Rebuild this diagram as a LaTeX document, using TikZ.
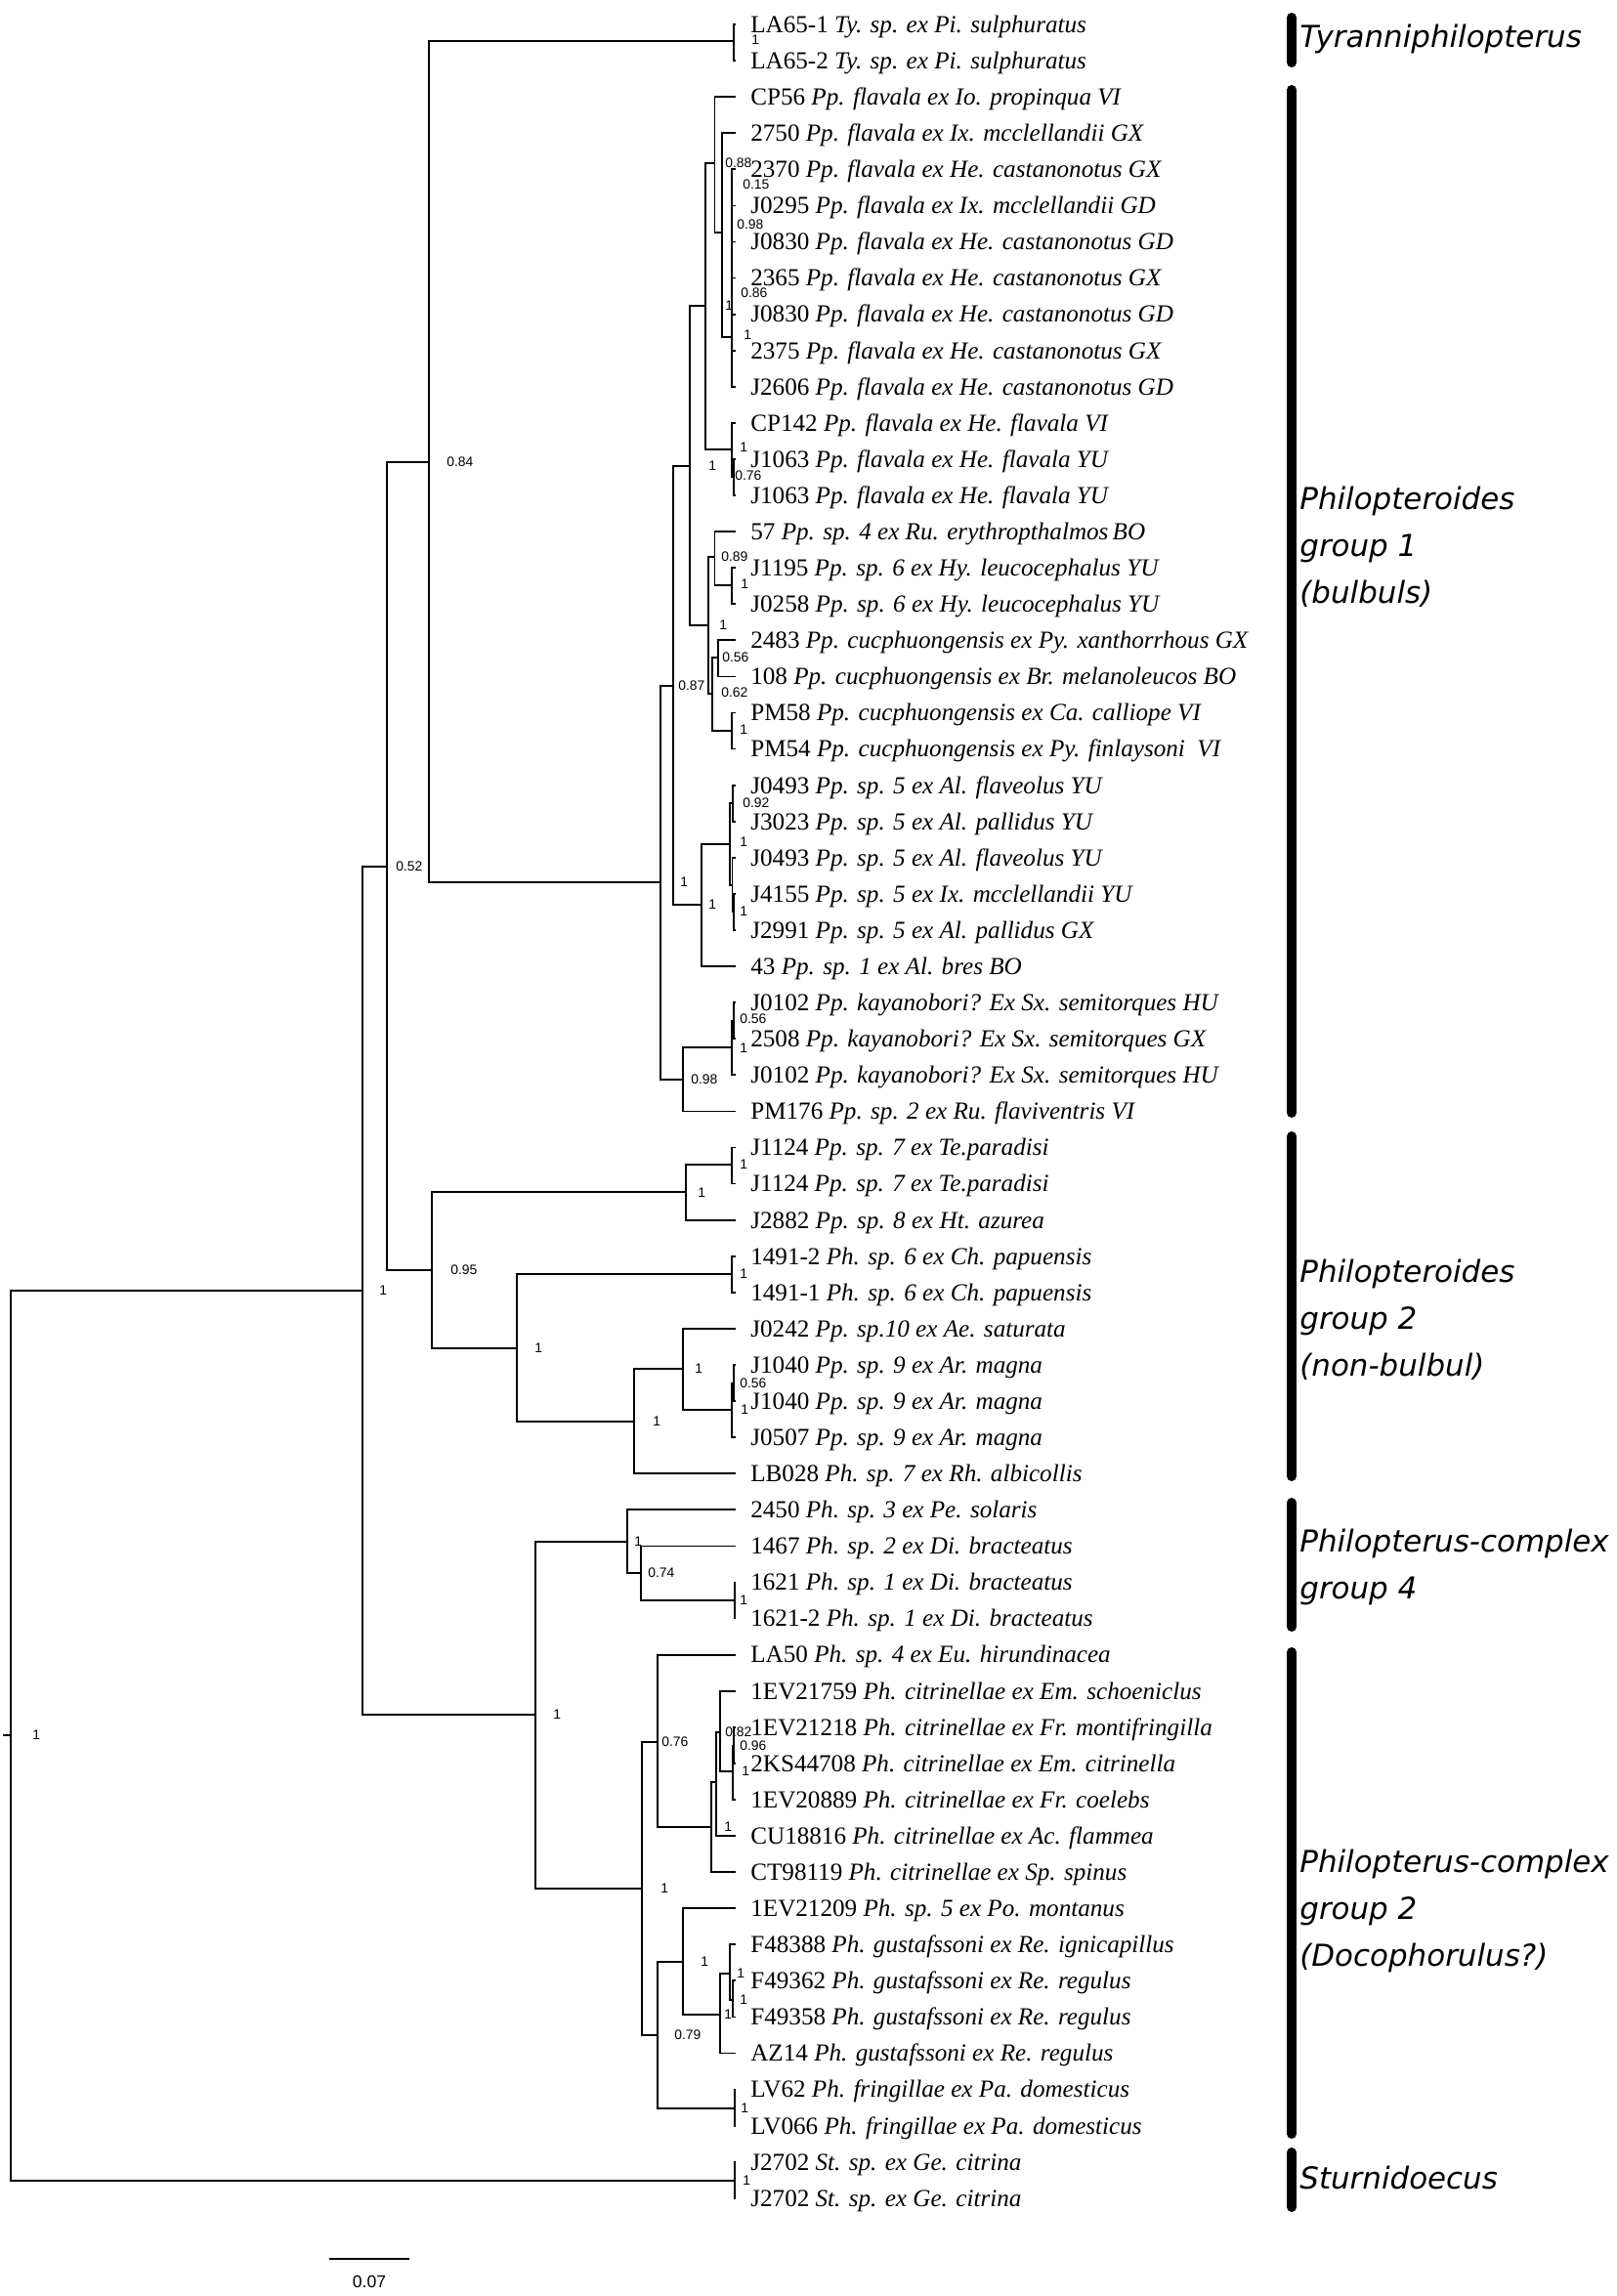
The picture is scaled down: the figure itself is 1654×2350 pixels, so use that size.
\documentclass[tikz,border=0pt]{standalone}
\usepackage{fontspec}
\usepackage{xcolor}
\setmainfont{Liberation Serif}
\newfontfamily\supfont{Liberation Sans}
\newfontfamily\grpfont{DejaVu Sans}

\begin{document}
\begin{tikzpicture}[x=0.02cm,y=-0.02cm,
  branch/.style={line width=1pt,line cap=rect},
  leaf/.style={anchor=west,inner xsep=0.32cm,inner ysep=0pt,text height=9.5pt,text depth=0pt,font=\fontsize{14.3}{16}\selectfont},
  sup/.style={anchor=west,inner sep=0pt,text height=5.6pt,text depth=0pt,font=\supfont\fontsize{7.9}{9}\selectfont},
  grpbar/.style={line width=0.2cm,line cap=round},
  grplabel/.style={anchor=west,align=left,inner sep=0pt,font=\grpfont\itshape\fontsize{17.6}{27.3}\selectfont},
  scalebar/.style={line width=1.2pt},
  scaletext/.style={inner sep=0pt,font=\supfont\fontsize{10}{12}\selectfont}]
\useasboundingbox (0,0) rectangle (1654,2350);

% taxa, one row each
\foreach \n/\id/\taxon in {1/LA65-1/Ty. sp. ex Pi. sulphuratus,
  2/LA65-2/Ty. sp. ex Pi. sulphuratus,
  3/CP56/Pp. flavala ex Io. propinqua VI,
  4/2750/Pp. flavala ex Ix. mcclellandii GX,
  5/2370/Pp. flavala ex He. castanonotus GX,
  6/J0295/Pp. flavala ex Ix. mcclellandii GD,
  7/J0830/Pp. flavala ex He. castanonotus GD,
  8/2365/Pp. flavala ex He. castanonotus GX,
  9/J0830/Pp. flavala ex He. castanonotus GD,
  10/2375/Pp. flavala ex He. castanonotus GX,
  11/J2606/Pp. flavala ex He. castanonotus GD,
  12/CP142/Pp. flavala ex He. flavala VI,
  13/J1063/Pp. flavala ex He. flavala YU,
  14/J1063/Pp. flavala ex He. flavala YU,
  15/57/Pp. sp. 4 ex Ru. erythropthalmos\thinspace BO,
  16/J1195/Pp. sp. 6 ex Hy. leucocephalus YU,
  17/J0258/Pp. sp. 6 ex Hy. leucocephalus YU,
  18/2483/Pp. cucphuongensis ex Py. xanthorrhous GX,
  19/108/Pp. cucphuongensis ex Br. melanoleucos BO,
  20/PM58/Pp. cucphuongensis ex Ca. calliope VI,
  21/PM54/Pp. cucphuongensis ex Py. finlaysoni\ \ VI,
  22/J0493/Pp. sp. 5 ex Al. flaveolus YU,
  23/J3023/Pp. sp. 5 ex Al. pallidus YU,
  24/J0493/Pp. sp. 5 ex Al. flaveolus YU,
  25/J4155/Pp. sp. 5 ex Ix. mcclellandii YU,
  26/J2991/Pp. sp. 5 ex Al. pallidus GX,
  27/43/Pp. sp. 1 ex Al. bres BO,
  28/J0102/Pp. kayanobori? Ex Sx. semitorques HU,
  29/2508/Pp. kayanobori? Ex Sx. semitorques GX,
  30/J0102/Pp. kayanobori? Ex Sx. semitorques HU,
  31/PM176/Pp. sp. 2 ex Ru. flaviventris VI,
  32/J1124/Pp. sp. 7 ex Te.paradisi,
  33/J1124/Pp. sp. 7 ex Te.paradisi,
  34/J2882/Pp. sp. 8 ex Ht. azurea,
  35/1491-2/Ph. sp. 6 ex Ch. papuensis,
  36/1491-1/Ph. sp. 6 ex Ch. papuensis,
  37/J0242/Pp. sp.10 ex Ae. saturata,
  38/J1040/Pp. sp. 9 ex Ar. magna,
  39/J1040/Pp. sp. 9 ex Ar. magna,
  40/J0507/Pp. sp. 9 ex Ar. magna,
  41/LB028/Ph. sp. 7 ex Rh. albicollis,
  42/2450/Ph. sp. 3 ex Pe. solaris,
  43/1467/Ph. sp. 2 ex Di. bracteatus,
  44/1621/Ph. sp. 1 ex Di. bracteatus,
  45/1621-2/Ph. sp. 1 ex Di. bracteatus,
  46/LA50/Ph. sp. 4 ex Eu. hirundinacea,
  47/1EV21759/Ph. citrinellae ex Em. schoeniclus,
  48/1EV21218/Ph. citrinellae ex Fr. montifringilla,
  49/2KS44708/Ph. citrinellae ex Em. citrinella,
  50/1EV20889/Ph. citrinellae ex Fr. coelebs,
  51/CU18816/Ph. citrinellae ex Ac. flammea,
  52/CT98119/Ph. citrinellae ex Sp. spinus,
  53/1EV21209/Ph. sp. 5 ex Po. montanus,
  54/F48388/Ph. gustafssoni ex Re. ignicapillus,
  55/F49362/Ph. gustafssoni ex Re. regulus,
  56/F49358/Ph. gustafssoni ex Re. regulus,
  57/AZ14/Ph. gustafssoni ex Re. regulus,
  58/LV62/Ph. fringillae ex Pa. domesticus,
  59/LV066/Ph. fringillae ex Pa. domesticus,
  60/J2702/St. sp. ex Ge. citrina,
  61/J2702/St. sp. ex Ge. citrina}
  { \coordinate (t\n) at (752,{25+(\n-1)*37.08});
    \node[leaf] (l\n) at (t\n) {\id\ \textit{\taxon}};}

% internal nodes
\coordinate (stub) at (4,1776);
\coordinate (root) at (11,1776);
\coordinate (n1) at (371,1321);
\coordinate (n052) at (396,887);
\coordinate (n084) at (439,473);
\coordinate (ty) at (751,42);
\coordinate (g1) at (676,903);
\coordinate (na) at (689,702);
\coordinate (a1) at (706,477);
\coordinate (a1a) at (722,313);
\coordinate (f1) at (731.5,167);
\coordinate (f2) at (739,238);
\coordinate (f3) at (749,345);
\coordinate (cp) at (749,460);
\coordinate (cp2) at (751,488);
\coordinate (a1b) at (725,640);
\coordinate (s57) at (731.5,570);
\coordinate (hy) at (749,599);
\coordinate (cuc) at (729,710);
\coordinate (c1) at (735,673);
\coordinate (c2) at (749,748);
\coordinate (a2) at (718,926);
\coordinate (s5) at (747,864);
\coordinate (s5a) at (750,822);
\coordinate (s5b) at (749.5,906);
\coordinate (s5c) at (751,933);
\coordinate (nb) at (699,1105);
\coordinate (k) at (749,1072);
\coordinate (k2) at (751,1045);
\coordinate (n095) at (442,1300);
\coordinate (p) at (702,1220);
\coordinate (p2) at (749,1192);
\coordinate (q) at (529,1380);
\coordinate (q1) at (749,1304);
\coordinate (q2) at (649,1455);
\coordinate (q3) at (699,1401);
\coordinate (q4) at (749,1443);
\coordinate (q5) at (751,1416);
\coordinate (pc) at (548,1755);
\coordinate (g4) at (642,1578);
\coordinate (g4b) at (656,1610);
\coordinate (g4c) at (752,1638);
\coordinate (c2n) at (657,1933);
\coordinate (c2a) at (673,1783);
\coordinate (c2c) at (728,1870);
\coordinate (c2e) at (733,1824);
\coordinate (cit) at (737,1773);
\coordinate (cit2) at (750,1813);
\coordinate (cit3) at (751,1787);
\coordinate (c2b) at (673,2083);
\coordinate (c2f) at (699,2008);
\coordinate (c2g) at (737,2062);
\coordinate (c2h) at (747,2020);
\coordinate (c2i) at (750,2047);
\coordinate (lv) at (752,2158);
\coordinate (st) at (752,2232);

% branches
\draw[branch] (stub) -- (root);
\foreach \p/\c in {root/n1,root/st,n1/n052,n1/pc,n052/n084,n052/n095,
  n084/ty,n084/g1,ty/t1,ty/t2,g1/na,g1/nb,na/a1,na/a2,a1/a1a,a1/a1b,
  a1a/f1,a1a/cp,f1/t3,f1/f2,f2/t4,f2/f3,f3/t5,f3/t6,f3/t7,f3/t8,f3/t9,f3/t10,f3/t11,
  cp/t12,cp/cp2,cp2/t13,cp2/t14,a1b/s57,a1b/cuc,s57/t15,s57/hy,hy/t16,hy/t17,
  cuc/c1,cuc/c2,c1/t18,c1/t19,c2/t20,c2/t21,a2/s5,a2/t27,s5/s5a,s5/s5b,
  s5a/t22,s5a/t23,s5b/t24,s5b/s5c,s5c/t25,s5c/t26,nb/k,nb/t31,k/k2,k/t30,k2/t28,k2/t29,
  n095/p,n095/q,p/p2,p/t34,p2/t32,p2/t33,q/q1,q/q2,q1/t35,q1/t36,q2/q3,q2/t41,
  q3/t37,q3/q4,q4/q5,q4/t40,q5/t38,q5/t39,
  pc/g4,pc/c2n,g4/t42,g4/g4b,g4b/t43,g4b/g4c,g4c/t44,g4c/t45,
  c2n/c2a,c2n/c2b,c2a/t46,c2a/c2c,c2c/c2e,c2c/t52,c2e/cit,c2e/t51,cit/t47,cit/cit2,
  cit2/cit3,cit2/t50,cit3/t48,cit3/t49,c2b/c2f,c2b/lv,c2f/t53,c2f/c2g,c2g/c2h,c2g/t57,
  c2h/t54,c2h/c2i,c2i/t55,c2i/t56,lv/t58,lv/t59,st/t60,st/t61}
  \draw[branch] (\p) |- (\c);

% posterior support values
\foreach \x/\y/\val [count=\i] in {769/41/1,457/473/0.84,405/887/0.52,388/1321/1,33/1776/1,
  696/903/1,694/702/0.87,707/1105/0.98,725/477/1,742/313/1,742/167/0.88,754/230/0.98,
  760/189/0.15,758/300/0.86,761/343/1,757/458/1,752/487/0.76,738/570/0.89,758/598/1,
  736/640/1,738/709/0.62,739/673/0.56,757/747/1,760/822/0.92,757/862/1,725/926/1,
  757/933/1,757/1043/0.56,757/1073/1,714/1221/1,757/1192/1,461/1300/0.95,547/1380/1,
  757/1304/1,668/1455/1,711/1401/1,757/1416/0.56,758/1443/1,566/1755/1,649/1578/1,
  663/1610/0.74,757/1638/1,676/1933/1,677/1783/0.76,742/1773/0.82,757/1787/0.96,
  759/1813/1,741/1870/1,690/2083/0.79,717/2008/1,754/2020/1,757/2047/1,741/2062/1,
  758/2158/1,760/2232/1}
  \node[sup] (pp\i) at (\x,\y) {\val};

% clade bars and names
\draw[grpbar] (1322,18) -- (1322,64);
\draw[grpbar] (1322,92) -- (1322,1139);
\draw[grpbar] (1322,1163) -- (1322,1511);
\draw[grpbar] (1322,1538) -- (1322,1665);
\draw[grpbar] (1322,1691) -- (1322,2184);
\draw[grpbar] (1322,2203) -- (1322,2259);
\node[grplabel] (grpTy) at (1330,40) {Tyranniphilopterus};
\node[grplabel] (grpPa) at (1330,560) {Philopteroides\\group 1\\(bulbuls)};
\node[grplabel] (grpPb) at (1330,1351) {Philopteroides\\group 2\\(non-bulbul)};
\node[grplabel] (grpCd) at (1330,1604) {Philopterus-complex\\group 4};
\node[grplabel] (grpCb) at (1330,1956) {Philopterus-complex\\group 2\\(Docophorulus?)};
\node[grplabel] (grpSt) at (1330,2229) {Sturnidoecus};

% scale
\coordinate (sbA) at (337,2312);
\coordinate (sbB) at (419,2312);
\draw[scalebar] (sbA) -- (sbB);
\node[scaletext] (sbT) at (378,2335) {0.07};
\end{tikzpicture}
\end{document}
